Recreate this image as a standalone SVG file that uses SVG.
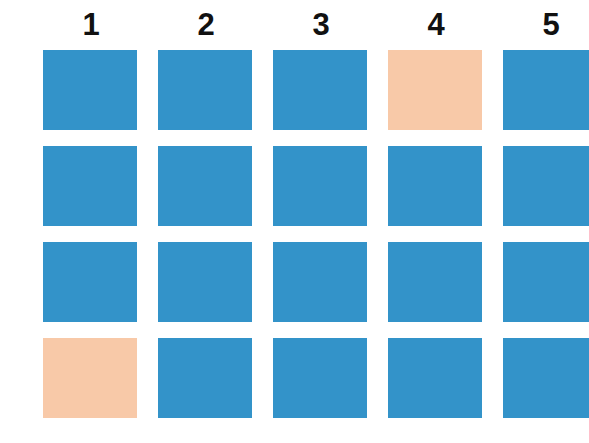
<svg xmlns="http://www.w3.org/2000/svg" width="589" height="443" viewBox="0 0 589 443">
<style>
.b{fill:#3393c9}
.p{fill:#f8c9a8}
.t{font-family:"Liberation Sans",Arial,sans-serif;font-weight:bold;font-size:31px;fill:#111;text-anchor:middle}
</style>
<rect width="589" height="443" fill="#fff"/>
<g id="labels">
<text class="t" x="91" y="35">1</text>
<text class="t" x="206" y="35">2</text>
<text class="t" x="321" y="35">3</text>
<text class="t" x="436" y="35">4</text>
<text class="t" x="551" y="35">5</text>
</g>
<g id="row1">
<rect id="r1c1" class="b" x="43" y="50" width="94" height="80"/>
<rect id="r1c2" class="b" x="158" y="50" width="94" height="80"/>
<rect id="r1c3" class="b" x="273" y="50" width="94" height="80"/>
<rect id="r1c4" class="p" x="388" y="50" width="94" height="80"/>
<rect id="r1c5" class="b" x="503" y="50" width="94" height="80"/>
</g>
<g id="row2">
<rect id="r2c1" class="b" x="43" y="146" width="94" height="80"/>
<rect id="r2c2" class="b" x="158" y="146" width="94" height="80"/>
<rect id="r2c3" class="b" x="273" y="146" width="94" height="80"/>
<rect id="r2c4" class="b" x="388" y="146" width="94" height="80"/>
<rect id="r2c5" class="b" x="503" y="146" width="94" height="80"/>
</g>
<g id="row3">
<rect id="r3c1" class="b" x="43" y="242" width="94" height="80"/>
<rect id="r3c2" class="b" x="158" y="242" width="94" height="80"/>
<rect id="r3c3" class="b" x="273" y="242" width="94" height="80"/>
<rect id="r3c4" class="b" x="388" y="242" width="94" height="80"/>
<rect id="r3c5" class="b" x="503" y="242" width="94" height="80"/>
</g>
<g id="row4">
<rect id="r4c1" class="p" x="43" y="338" width="94" height="80"/>
<rect id="r4c2" class="b" x="158" y="338" width="94" height="80"/>
<rect id="r4c3" class="b" x="273" y="338" width="94" height="80"/>
<rect id="r4c4" class="b" x="388" y="338" width="94" height="80"/>
<rect id="r4c5" class="b" x="503" y="338" width="94" height="80"/>
</g>
<g id="connectors"/>
</svg>
